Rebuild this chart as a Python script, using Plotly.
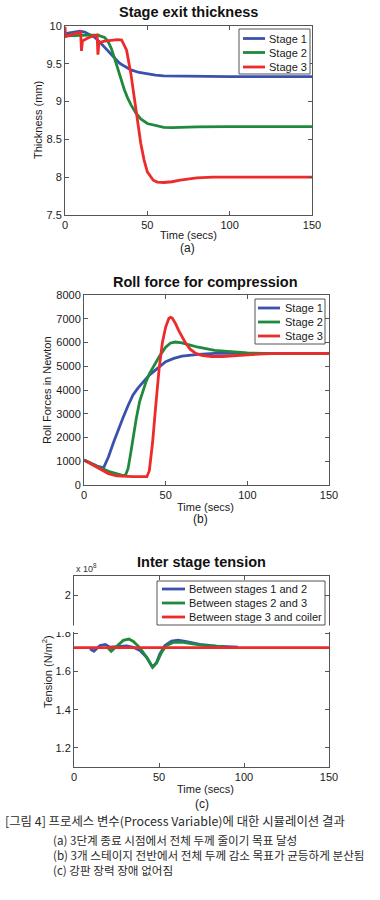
import plotly.graph_objects as go

# ---------------- data ----------------
# (a) Stage exit thickness (mm)
thk_s1_t = [0, 3, 6, 9, 12, 15, 18, 21, 24, 27, 30, 33, 36, 40, 45, 50, 55, 60, 70, 80, 100, 120, 150]
thk_s1_v = [9.90, 9.91, 9.92, 9.93, 9.92, 9.89, 9.85, 9.79, 9.72, 9.64, 9.57, 9.51, 9.47, 9.42, 9.385, 9.365,
            9.35, 9.34, 9.335, 9.33, 9.33, 9.33, 9.33]
thk_s2_t = [0, 10, 15, 20, 22, 24, 26, 28, 30, 32, 34, 36, 38, 40, 43, 46, 50, 55, 60, 65, 70, 80, 100, 150]
thk_s2_v = [9.87, 9.88, 9.88, 9.88, 9.87, 9.85, 9.80, 9.71, 9.58, 9.43, 9.29, 9.16, 9.05, 8.96, 8.85, 8.77,
            8.71, 8.68, 8.66, 8.655, 8.66, 8.665, 8.67, 8.67]
thk_s3_t = [0, 0.3, 3, 6, 9.5, 10, 10.6, 13, 16, 19.5, 20, 20.6, 24, 28, 32, 34.4, 37.4, 40, 42, 44, 46, 48,
            50, 53.6, 56, 60, 65, 70, 80, 90, 100, 150]
thk_s3_v = [9.99, 9.86, 9.88, 9.90, 9.92, 9.67, 9.80, 9.83, 9.86, 9.88, 9.62, 9.78, 9.80, 9.81, 9.82, 9.815,
            9.68, 9.37, 9.07, 8.76, 8.45, 8.23, 8.07, 7.96, 7.935, 7.93, 7.94, 7.96, 7.99, 8.0, 8.0, 8.0]

# (b) Roll force (N)
rf_s1_t = [0, 4, 8, 12, 15, 18, 21, 24, 27, 30, 33, 36, 40, 45, 50, 55, 60, 70, 80, 90, 100, 120, 150]
rf_s1_v = [1050, 920, 800, 720, 1190, 1780, 2350, 2850, 3350, 3790, 4080, 4320, 4630, 4910, 5190, 5330,
           5430, 5500, 5540, 5540, 5540, 5540, 5540]
rf_s2_t = [0, 5, 10, 15, 20, 24, 25.5, 27, 28.5, 30, 32, 34, 36, 38, 40, 43, 46, 50, 53, 56, 60, 65, 70,
           80, 90, 100, 110, 150]
rf_s2_v = [1050, 880, 720, 580, 470, 400, 430, 700, 1300, 2000, 2800, 3500, 3950, 4350, 4680, 5050, 5400,
           5800, 5980, 6020, 5980, 5890, 5800, 5670, 5600, 5560, 5540, 5540]
rf_s3_t = [0, 5, 10, 15, 20, 25, 30, 35, 38.5, 40, 42, 44, 46, 48, 50, 52, 53, 54, 56, 58, 60, 62, 65, 68,
           72, 78, 85, 92, 100, 110, 120, 150]
rf_s3_v = [1050, 850, 650, 480, 380, 350, 350, 350, 350, 600, 1800, 3400, 4900, 6000, 6650, 7020, 7060,
           7030, 6800, 6500, 6250, 6000, 5720, 5560, 5460, 5410, 5410, 5430, 5480, 5520, 5540, 5540]

# (c) Inter stage tension (x 10^8 N/m^2)
ten_12_t = [9.4, 11.7, 15.3, 18.4, 21.1, 25, 31, 34.9, 38.8, 42.7, 45.6, 46.6, 48.6, 50.5, 53.5, 57.4,
            61.3, 66.2, 74, 83.8, 93.6, 96.5]
ten_12_v = [1.719, 1.706, 1.736, 1.742, 1.727, 1.731, 1.734, 1.727, 1.71, 1.675, 1.631, 1.626, 1.648,
            1.692, 1.736, 1.759, 1.764, 1.757, 1.742, 1.733, 1.727, 1.727]
ten_23_t = [19.6, 21.9, 25, 29, 32.3, 34.9, 38.8, 42.7, 46.2, 48.6, 51.5, 54.4, 58.3, 63.2, 70, 78, 85.8, 88]
ten_23_v = [1.727, 1.706, 1.731, 1.763, 1.770, 1.757, 1.724, 1.675, 1.622, 1.645, 1.70, 1.736, 1.752,
            1.754, 1.745, 1.734, 1.731, 1.731]
ten_3c_t = [0, 150]
ten_3c_v = [1.725, 1.725]

thk_names = ["Stage 1", "Stage 2", "Stage 3"]
rf_names = ["Stage 1", "Stage 2", "Stage 3"]
ten_names = ["Between stages 1 and 2", "Between stages 2 and 3", "Between stage 3 and coiler"]

x_ticks = [0, 50, 100, 150]
thk_ticks = [7.5, 8, 8.5, 9, 9.5, 10]
thk_ticktext = ["7.5", "8", "8.5", "9", "9.5", "10"]
rf_ticks = [0, 1000, 2000, 3000, 4000, 5000, 6000, 7000, 8000]
ten_ticks = [1.2, 1.4, 1.6, 1.8, 2.0]
ten_ticktext = ["1.2", "1.4", "1.6", "1.8", "2"]

titles = ["Stage exit thickness", "Roll force for compression", "Inter stage tension"]
ytitles = ["Thickness (mm)", "Roll Forces in Newton", "Tension (N/m<sup>2</sup>)"]
panel_labels = ["(a)", "(b)", "(c)"]
caption_head = "[그림 4] 프로세스 변수(Process Variable)에 대한 시뮬레이션 결과"
caption_items = ["(a) 3단계 종료 시점에서 전체 두께 줄이기 목표 달성",
                 "(b) 3개 스테이지 전반에서 전체 두께 감소 목표가 균등하게 분산됨",
                 "(c) 강판 장력 장애 없어짐"]

# ---------------- style ----------------
W, H = 380, 900
FONT = "Liberation Sans, Arial, sans-serif"
KFONT = "Noto Sans CJK KR, sans-serif"
COLORS = ["#3a52ad", "#1f8a3e", "#ee2b2b"]
AXC = "#555555"
LW = 2.8


def X(p):
    return p / W


def Y(p):
    return 1 - p / H


fig = go.Figure()

panels = [
    dict(xa="x", ya="y", series=[(thk_s1_t, thk_s1_v), (thk_s2_t, thk_s2_v), (thk_s3_t, thk_s3_v)], names=thk_names),
    dict(xa="x2", ya="y2", series=[(rf_s1_t, rf_s1_v), (rf_s2_t, rf_s2_v), (rf_s3_t, rf_s3_v)], names=rf_names),
    dict(xa="x3", ya="y3", series=[(ten_12_t, ten_12_v), (ten_23_t, ten_23_v), (ten_3c_t, ten_3c_v)], names=ten_names),
]
for p in panels:
    for (t, v), nm, c in zip(p["series"], p["names"], COLORS):
        fig.add_trace(go.Scatter(x=t, y=v, mode="lines", name=nm, xaxis=p["xa"], yaxis=p["ya"],
                                 line=dict(color=c, width=LW), showlegend=False, hoverinfo="skip"))

# plot boxes in page pixels: (left, right, top, bottom)
boxes = [(65, 312, 26, 215), (84, 329, 295, 485), (74, 329, 576, 767)]


def axis_common():
    return dict(showline=True, linecolor=AXC, linewidth=1, mirror="ticks", ticks="inside", ticklen=4,
                tickcolor=AXC, showgrid=False, zeroline=False, automargin=False,
                tickfont=dict(family=FONT, size=11, color="#1a1a1a"))


layout_axes = {}
yranges = [[7.5, 10], [0, 8000], [1.1, 2.1]]
ytv = [thk_ticks, rf_ticks, ten_ticks]
ytt = [thk_ticktext, [str(v) for v in rf_ticks], ten_ticktext]
for i, (l, r, t, b) in enumerate(boxes):
    sfx = "" if i == 0 else str(i + 1)
    xa = axis_common()
    xa.update(domain=[X(l), X(r)], range=[0, 150], tickvals=x_ticks, ticktext=[str(v) for v in x_ticks],
              anchor="y" + sfx)
    ya = axis_common()
    ya.update(domain=[Y(b), Y(t)], range=yranges[i], tickvals=ytv[i], ticktext=ytt[i], anchor="x" + sfx)
    layout_axes["xaxis" + sfx] = xa
    layout_axes["yaxis" + sfx] = ya

annotations = []
shapes = []

# titles, axis titles, panel labels (page pixels)
title_pos = [(188, 12), (205, 282), (201, 562)]
xt_pos = [(188, 235), (205, 507), (205, 789)]
lab_pos = [(187, 248), (200, 519), (202, 804)]
yt_pos = [(38, 120), (47, 390), (47, 672)]
for i in range(3):
    annotations.append(dict(text="<b>" + titles[i] + "</b>", x=X(title_pos[i][0]), y=Y(title_pos[i][1]),
                            xref="paper", yref="paper", showarrow=False, xanchor="center", yanchor="middle",
                            font=dict(family=FONT, size=14.5, color="#111")))
    annotations.append(dict(text="Time (secs)", x=X(xt_pos[i][0]), y=Y(xt_pos[i][1]), xref="paper",
                            yref="paper", showarrow=False, xanchor="center", yanchor="middle",
                            font=dict(family=FONT, size=11, color="#1a1a1a")))
    annotations.append(dict(text=panel_labels[i], x=X(lab_pos[i][0]), y=Y(lab_pos[i][1]), xref="paper",
                            yref="paper", showarrow=False, xanchor="center", yanchor="middle",
                            font=dict(family=FONT, size=12, color="#1a1a1a")))
    annotations.append(dict(text=ytitles[i], x=X(yt_pos[i][0]), y=Y(yt_pos[i][1]), xref="paper",
                            yref="paper", showarrow=False, xanchor="center", yanchor="middle", textangle=-90,
                            font=dict(family=FONT, size=11, color="#1a1a1a")))

# exponent label
annotations.append(dict(text="x 10<sup>8</sup>", x=X(74), y=Y(568), xref="paper", yref="paper",
                        showarrow=False, xanchor="left", yanchor="middle",
                        font=dict(family=FONT, size=9, color="#333")))

# mask band under the tension legend (as in the original)
shapes.append(dict(type="rect", xref="paper", yref="paper", x0=X(55), x1=X(340), y0=Y(632), y1=Y(625.5),
                   fillcolor="white", line=dict(width=0), layer="above"))

# legends: box (l, r, t, b), line x0, x1, text x, row ys
legends = [
    dict(box=(239, 310, 29, 74), lx=(243, 265), tx=268, rows=[38.5, 52.5, 67], names=thk_names),
    dict(box=(255, 325, 299, 344), lx=(258, 280), tx=284, rows=[308, 322, 336], names=rf_names),
    dict(box=(157, 325, 581, 625), lx=(162, 185), tx=188, rows=[589, 603, 617], names=ten_names),
]
for lg in legends:
    l, r, t, b = lg["box"]
    shapes.append(dict(type="rect", xref="paper", yref="paper", x0=X(l), x1=X(r), y0=Y(b), y1=Y(t),
                       fillcolor="white", line=dict(color=AXC, width=1), layer="above"))
    for ry, nm, c in zip(lg["rows"], lg["names"], COLORS):
        shapes.append(dict(type="line", xref="paper", yref="paper", x0=X(lg["lx"][0]), x1=X(lg["lx"][1]),
                           y0=Y(ry), y1=Y(ry), line=dict(color=c, width=LW), layer="above"))
        annotations.append(dict(text=nm, x=X(lg["tx"]), y=Y(ry), xref="paper", yref="paper", showarrow=False,
                                xanchor="left", yanchor="middle", borderpad=0,
                                font=dict(family=FONT, size=11, color="#1a1a1a")))

# caption: heading line, then the three items as one multi-line block
annotations.append(dict(text=caption_head, x=X(4), y=Y(821), xref="paper", yref="paper", showarrow=False,
                        xanchor="left", yanchor="middle", borderpad=0,
                        font=dict(family=KFONT, size=12.4, color="#2a2a2a")))
annotations.append(dict(text="<br>".join(caption_items), x=X(52), y=Y(830.5), xref="paper", yref="paper",
                        showarrow=False, xanchor="left", yanchor="top", align="left", borderpad=0,
                        font=dict(family=KFONT, size=11.6, color="#2a2a2a")))

fig.update_layout(width=W, height=H, autosize=False, margin=dict(l=0, r=0, t=0, b=0),
                  paper_bgcolor="white", plot_bgcolor="white", showlegend=False,
                  annotations=annotations, shapes=shapes, **layout_axes)

fig.write_html("out.html", config={"displayModeBar": False},
               post_script="document.body.style.margin='0';")
